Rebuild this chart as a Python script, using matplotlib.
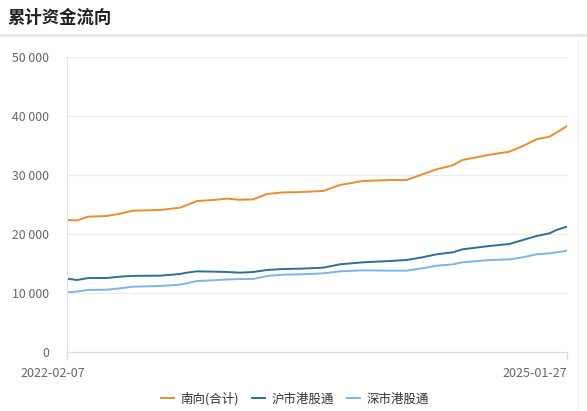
import matplotlib
matplotlib.use("Agg")
import matplotlib.pyplot as plt
import matplotlib.ticker as mticker
from matplotlib.transforms import ScaledTranslation
import pandas as pd

plt.rcParams["font.family"] = ["Noto Sans CJK SC", "DejaVu Sans"]

dates = [
    "2022-02-07", "2022-03-01", "2022-03-25", "2022-05-04", "2022-06-02",
    "2022-06-30", "2022-08-28", "2022-10-10", "2022-10-25", "2022-11-16",
    "2022-12-21", "2023-01-20", "2023-02-17", "2023-03-18", "2023-04-17",
    "2023-05-22", "2023-06-28", "2023-08-17", "2023-09-22", "2023-11-11",
    "2024-01-08", "2024-02-14", "2024-03-19", "2024-04-19", "2024-05-24",
    "2024-06-14", "2024-08-12", "2024-09-24", "2024-10-23", "2024-11-22",
    "2024-12-20", "2025-01-04", "2025-01-27",
]
southbound = [
    22370, 22300, 22940, 23050, 23450, 23950, 24070, 24460, 24900, 25590,
    25760, 25990, 25800, 25870, 26780, 27050, 27100, 27300, 28300, 28980,
    29150, 29150, 30110, 30960, 31640, 32540, 33440, 33950, 34900, 36050,
    36500, 37170, 38300,
]
shanghai = [
    12430, 12200, 12540, 12540, 12770, 12900, 12940, 13220, 13450, 13670,
    13620, 13560, 13450, 13560, 13900, 14070, 14120, 14290, 14860, 15200,
    15420, 15590, 16050, 16560, 16890, 17400, 17970, 18310, 18980, 19660,
    20110, 20680, 21240,
]
shenzhen = [
    10110, 10250, 10510, 10560, 10790, 11070, 11190, 11410, 11640, 12030,
    12150, 12300, 12370, 12370, 12880, 13110, 13160, 13330, 13670, 13840,
    13790, 13790, 14180, 14630, 14850, 15200, 15590, 15700, 16050, 16560,
    16730, 16900, 17170,
]
labels = ["南向(合计)", "沪市港股通", "深市港股通"]
colors = ["#f08c28", "#2a7199", "#7cb5ec"]
yticks = [0, 10000, 20000, 30000, 40000, 50000]

x = pd.to_datetime(dates)

fig = plt.figure(figsize=(5.87, 4.11), dpi=100)
ax = fig.add_axes([67 / 587, 1 - 352 / 411, 500 / 587, 295 / 411])

for data, label, color in zip([southbound, shanghai, shenzhen], labels, colors):
    ax.plot(x, data, color=color, lw=1.4, label=label, solid_joinstyle="round")

ax.set_xlim(x[0], x[-1])
ax.set_ylim(0, 50000)
ax.set_yticks(yticks)
ax.yaxis.set_major_formatter(
    mticker.FuncFormatter(lambda v, p: f"{int(v):,}".replace(",", " "))
)
ax.grid(axis="y", color="#ececec", lw=1)
ax.set_axisbelow(True)

ax.set_xticks([x[0], x[-1]])
ax.set_xticklabels([dates[0], dates[-1]])
ax.tick_params(axis="x", length=6, width=1, color="#d8dde6", pad=5,
               labelsize=9, labelcolor="#666666")
ax.tick_params(axis="y", length=0, pad=13, labelsize=8.8, labelcolor="#666666")
xl = ax.get_xticklabels()
xl[0].set_ha("center")
xl[0].set_transform(xl[0].get_transform() + ScaledTranslation(-0.145, 0, fig.dpi_scale_trans))
xl[1].set_ha("right")

for s in ["top", "right"]:
    ax.spines[s].set_visible(False)
ax.spines["left"].set_color("#dfe3ec")
ax.spines["bottom"].set_color("#d8dde6")

fig.text(8 / 587, 1 - 18 / 411, "累计资金流向", fontsize=12.5, fontweight="bold",
         color="#222222", va="center", ha="left")
fig.add_artist(plt.Line2D([0, 1], [1 - 35 / 411, 1 - 35 / 411], color="#e6e6e6",
                          lw=2, transform=fig.transFigure))
fig.add_artist(plt.Line2D([578 / 587, 578 / 587], [0, 1 - 36 / 411], color="#f2f2f2",
                          lw=1, transform=fig.transFigure))

fig.legend(loc="center", bbox_to_anchor=(295 / 587, 1 - 399 / 411), ncol=3,
           frameon=False, fontsize=9, handlelength=1.0, handletextpad=0.5,
           columnspacing=1.1, labelcolor="#333333")

fig.savefig("out.png", dpi=100)
